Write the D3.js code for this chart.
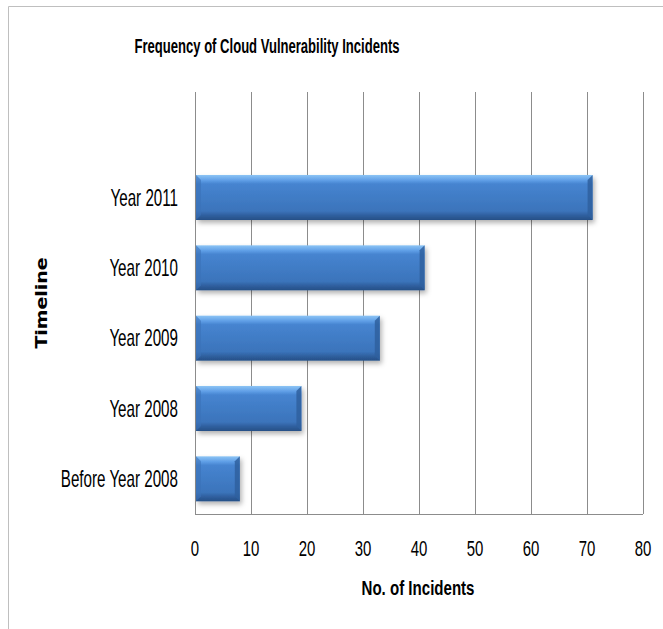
<!DOCTYPE html>
<html><head><meta charset="utf-8">
<script src="https://cdn.jsdelivr.net/npm/d3@7"></script>
<style>body{margin:0;background:#fff}svg{display:block}</style>
</head><body>
<script>
const categories = ["Year 2011","Year 2010","Year 2009","Year 2008","Before Year 2008"];
const values = [71, 41, 33, 19, 8];
const xTicks = [0,10,20,30,40,50,60,70,80];
const title = "Frequency of Cloud Vulnerability Incidents";
const xTitle = "No. of Incidents";
const yTitle = "Timeline";

const W = 663, H = 629;
const m = {left:195, right:20, top:92, bottom:115};
const svg = d3.select("body").append("svg").attr("width",W).attr("height",H);
const defs = svg.append("defs");
const g1 = defs.append("linearGradient").attr("id","barg").attr("x1",0).attr("y1",0).attr("x2",0).attr("y2",1);
[[0,"#8cc4f5"],[0.12,"#5f9ee6"],[0.2,"#4684d0"],[0.8,"#3b74bb"],[0.9,"#2f5f9e"],[1,"#264f86"]].forEach(s=>g1.append("stop").attr("offset",s[0]).attr("stop-color",s[1]));
const f = defs.append("filter").attr("id","sh").attr("x","-10%").attr("y","-20%").attr("width","130%").attr("height","160%");
f.append("feDropShadow").attr("dx",2).attr("dy",3).attr("stdDeviation",2.5).attr("flood-color","#000").attr("flood-opacity",0.3);

// outer border
svg.append("path").attr("d",`M8.5,${H} L8.5,6.5 L${W},6.5`).attr("fill","none").attr("stroke","#bfbfbf");

const x = d3.scaleLinear().domain([0,80]).range([m.left, 643]);
const y = d3.scaleBand().domain(["", ...categories]).range([m.top, H-m.bottom]).paddingInner(0.36).paddingOuter(0.18);

// gridlines
svg.append("g").selectAll("line").data(xTicks).join("line")
  .attr("x1",d=>Math.round(x(d))+0.5).attr("x2",d=>Math.round(x(d))+0.5)
  .attr("y1",m.top).attr("y2",H-m.bottom)
  .attr("stroke","#8c8c8c").attr("stroke-width",1);
svg.append("line").attr("x1",m.left).attr("x2",643).attr("y1",H-m.bottom+0.5).attr("y2",H-m.bottom+0.5).attr("stroke","#8c8c8c");

// bars
const bars = svg.append("g").selectAll("g").data(categories.map((c,i)=>({c,v:values[i]}))).join("g");
bars.append("rect").attr("x",x(0)+1).attr("y",d=>y(d.c)).attr("width",d=>x(d.v)-x(0)-1).attr("height",y.bandwidth())
  .attr("fill","url(#barg)").attr("filter","url(#sh)");
bars.append("path").attr("d",d=>{const x1=x(d.v), y0=y(d.c), h=y.bandwidth(), b=5;
  return `M${x1-b},${y0+b} L${x1},${y0} L${x1},${y0+h} L${x1-b},${y0+h-b} Z`;}).attr("fill","#2f609f").attr("opacity",0.85);
bars.append("path").attr("d",d=>{const x0=x(0)+1, y0=y(d.c), b=5;
  return `M${x0},${y0} L${x0+b},${y0+b} L${x0+b},${y0+y.bandwidth()-b} L${x0},${y0+y.bandwidth()} Z`;}).attr("fill","#3a72b8").attr("opacity",0.6);

const font = "'Liberation Sans',Arial,sans-serif";
// y labels
svg.append("g").selectAll("text").data(categories).join("text")
  .attr("transform",d=>`translate(178,${y(d)+y.bandwidth()/2}) scale(0.66,1)`).attr("dy","0.36em").attr("text-anchor","end")
  .attr("font-family",font).attr("font-size",23).attr("fill","#000").text(d=>d);
// x labels
svg.append("g").selectAll("text").data(xTicks).join("text")
  .attr("transform",d=>`translate(${x(d)},548) scale(0.68,1)`).attr("dy","0.36em").attr("text-anchor","middle")
  .attr("font-family",font).attr("font-size",22).attr("fill","#000").text(d=>d);

svg.append("text").attr("x",267).attr("y",46).attr("dy","0.36em").attr("text-anchor","middle")
  .attr("font-family",font).attr("font-weight","bold").attr("font-size",19.5).attr("textLength",265).attr("lengthAdjust","spacingAndGlyphs").text(title);
svg.append("text").attr("x",418).attr("y",587).attr("dy","0.36em").attr("text-anchor","middle")
  .attr("font-family",font).attr("font-weight","bold").attr("font-size",21).attr("textLength",113).attr("lengthAdjust","spacingAndGlyphs").text(xTitle);
svg.append("text").attr("transform","translate(41,303) rotate(-90)").attr("dy","0.36em").attr("text-anchor","middle")
  .attr("font-family","'DejaVu Sans',Verdana,sans-serif").attr("font-weight","bold").attr("font-size",16).attr("textLength",91).attr("lengthAdjust","spacingAndGlyphs").text(yTitle);
</script>
</body></html>
